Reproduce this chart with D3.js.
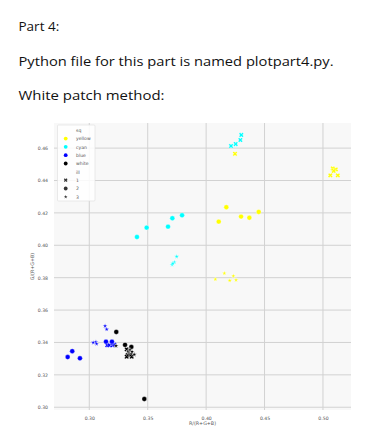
<!DOCTYPE html>
<html>
<head>
<meta charset="utf-8">
<script src="https://cdn.jsdelivr.net/npm/d3@7"></script>
<style>
body { margin: 0; background: #fff; }
</style>
</head>
<body>
<div id="chart"></div>
<script>
// points are [R/(R+G+B), G/(R+G+B), ill]
var yellowPts = [
	[0.5084, 0.4475, 1], [0.5110, 0.4469, 1], [0.5092, 0.4459, 1], [0.5063, 0.4432, 1], [0.5127, 0.4432, 1], [0.4247, 0.4565, 1],
	[0.4173, 0.4235, 2], [0.4108, 0.4146, 2], [0.4299, 0.4177, 2], [0.4370, 0.4170, 2], [0.4450, 0.4206, 2],
	[0.4156, 0.3827, 3], [0.4079, 0.3790, 3], [0.4233, 0.3810, 3], [0.4202, 0.3782, 3], [0.4256, 0.3786, 3]
];
var cyanPts = [
	[0.4301, 0.4681, 1], [0.4293, 0.4650, 1], [0.4253, 0.4625, 1], [0.4213, 0.4613, 1],
	[0.3408, 0.4051, 2], [0.3491, 0.4109, 2], [0.3674, 0.4115, 2], [0.3711, 0.4167, 2], [0.3794, 0.4185, 2],
	[0.3748, 0.3930, 3], [0.3728, 0.3895, 3], [0.3708, 0.3880, 3], [0.3715, 0.3887, 3]
];
var bluePts = [
	[0.3154, 0.3383, 1], [0.3171, 0.3383, 1], [0.3200, 0.3383, 1], [0.3214, 0.3386, 1],
	[0.2815, 0.3310, 2], [0.2854, 0.3346, 2], [0.2920, 0.3302, 2], [0.3143, 0.3405, 2], [0.3194, 0.3405, 2],
	[0.3135, 0.3502, 3], [0.3149, 0.3481, 3], [0.3034, 0.3399, 3], [0.3057, 0.3403, 3], [0.3063, 0.3391, 3]
];
var whitePts = [
	[0.3320, 0.3358, 1], [0.3329, 0.3323, 1], [0.3354, 0.3327, 1], [0.3320, 0.3312, 1], [0.3363, 0.3312, 1],
	[0.3231, 0.3465, 2], [0.3306, 0.3385, 2], [0.3360, 0.3372, 2], [0.3471, 0.3051, 2],
	[0.3334, 0.3343, 3], [0.3348, 0.3354, 3], [0.3366, 0.3343, 3], [0.3229, 0.3379, 3], [0.3385, 0.3325, 3]
];
var sqNames = ['yellow', 'cyan', 'blue', 'white'];
var sqColors = ['#ffff00', '#00ffff', '#0000ff', '#000000'];
var illNames = ['1', '2', '3'];
var xTicks = [0.30, 0.35, 0.40, 0.45, 0.50];
var yTicks = [0.30, 0.32, 0.34, 0.36, 0.38, 0.40, 0.42, 0.44, 0.46];

var width = 387, height = 436;
var svg = d3.select('#chart').append('svg')
	.attr('width', width)
	.attr('height', height);

// document text above the figure
var lines = [
	{t: 'Part 4:', y: 31, w: 0},
	{t: 'Python file for this part is named plotpart4.py.', y: 65.5, w: 315},
	{t: 'White patch method:', y: 99.5, w: 146}
];
lines.forEach(function(l) {
	var t = svg.append('text')
		.attr('x', 18.5)
		.attr('y', l.y)
		.style('font-family', 'Open Sans, sans-serif')
		.style('font-size', '13.5px')
		.style('fill', '#111')
		.text(l.t);
	if (l.w) t.attr('textLength', l.w).attr('lengthAdjust', 'spacingAndGlyphs');
});

var pLeft = 54, pRight = 351, pTop = 123, pBottom = 410;
var x = d3.scaleLinear().domain([0.2698, 0.5240]).range([pLeft, pRight]);
var y = d3.scaleLinear().domain([0.2983, 0.4755]).range([pBottom, pTop]);

svg.append('rect')
	.attr('x', pLeft).attr('y', pTop)
	.attr('width', pRight - pLeft).attr('height', pBottom - pTop)
	.style('fill', '#f8f8f8');

var g = svg.append('g');
g.selectAll('.vgrid').data(xTicks).enter().append('line')
	.attr('x1', function(d) { return x(d); }).attr('x2', function(d) { return x(d); })
	.attr('y1', pTop).attr('y2', pBottom)
	.style('stroke', '#d2d2d2').style('stroke-width', 1);
g.selectAll('.hgrid').data(yTicks).enter().append('line')
	.attr('y1', function(d) { return y(d); }).attr('y2', function(d) { return y(d); })
	.attr('x1', pLeft).attr('x2', pRight)
	.style('stroke', '#d2d2d2').style('stroke-width', 1);

// axes (tick labels only, no domain)
var xAxis = svg.append('g')
	.attr('transform', 'translate(0,' + pBottom + ')')
	.call(d3.axisBottom(x).tickValues(xTicks).tickSize(0).tickPadding(7).tickFormat(d3.format('.2f')));
var yAxis = svg.append('g')
	.attr('transform', 'translate(' + pLeft + ',0)')
	.call(d3.axisLeft(y).tickValues(yTicks).tickSize(0).tickPadding(6).tickFormat(d3.format('.2f')));
[xAxis, yAxis].forEach(function(a) {
	a.select('.domain').remove();
	a.selectAll('text').style('font-family', 'DejaVu Sans, sans-serif').style('font-size', '4.6px').style('fill', '#555');
});

svg.append('text')
	.attr('x', (pLeft + pRight) / 2).attr('y', 425)
	.attr('text-anchor', 'middle')
	.style('font-family', 'DejaVu Sans, sans-serif').style('font-size', '4.8px').style('fill', '#555')
	.text('R/(R+G+B)');
svg.append('text')
	.attr('transform', 'translate(34,' + ((pTop + pBottom) / 2) + ') rotate(-90)')
	.attr('text-anchor', 'middle')
	.style('font-family', 'DejaVu Sans, sans-serif').style('font-size', '4.8px').style('fill', '#555')
	.text('G/(R+G+B)');

// markers: ill 1 = X, ill 2 = circle, ill 3 = star
function markerPath(ill, scale) {
	if (ill === 1) return d3.symbol().type(d3.symbolCross).size(14 * scale)();
	if (ill === 2) return d3.symbol().type(d3.symbolCircle).size(19 * scale)();
	return d3.symbol().type(d3.symbolStar).size(7 * scale)();
}

var allSeries = [yellowPts, cyanPts, bluePts, whitePts];
allSeries.forEach(function(pts, si) {
	svg.append('g').selectAll('path')
		.data(pts)
		.enter().append('path')
			.attr('d', function(d) { return markerPath(d[2], 1); })
			.attr('transform', function(d) {
				return 'translate(' + x(d[0]) + ',' + y(d[1]) + ')' + (d[2] === 1 ? ' rotate(45)' : '');
			})
			.style('fill', sqColors[si])
			.style('stroke', '#fff')
			.style('stroke-width', 0.35);
});

// legend
var lg = svg.append('g');
lg.append('rect')
	.attr('x', 57.5).attr('y', 125).attr('width', 37.5).attr('height', 76)
	.attr('rx', 1)
	.style('fill', '#fff').style('fill-opacity', 0.85)
	.style('stroke', '#ddd').style('stroke-width', 0.6);
var legendRows = [{label: 'sq', title: true}];
sqNames.forEach(function(n, i) { legendRows.push({label: n, color: sqColors[i], ill: 2}); });
legendRows.push({label: 'ill', title: true});
illNames.forEach(function(n, i) { legendRows.push({label: n, color: '#333', ill: i + 1}); });

legendRows.forEach(function(r, i) {
	var ry = 130.2 + i * 8.33;
	if (!r.title) {
		lg.append('path')
			.attr('d', markerPath(r.ill, 0.6))
			.attr('transform', 'translate(65.7,' + ry + ')' + (r.ill === 1 ? ' rotate(45)' : ''))
			.style('fill', r.color);
	}
	lg.append('text')
		.attr('x', 76).attr('y', ry + 1.7)
		.style('font-family', 'DejaVu Sans, sans-serif').style('font-size', '4.6px').style('fill', '#555')
		.text(r.label);
});
</script>
</body>
</html>
